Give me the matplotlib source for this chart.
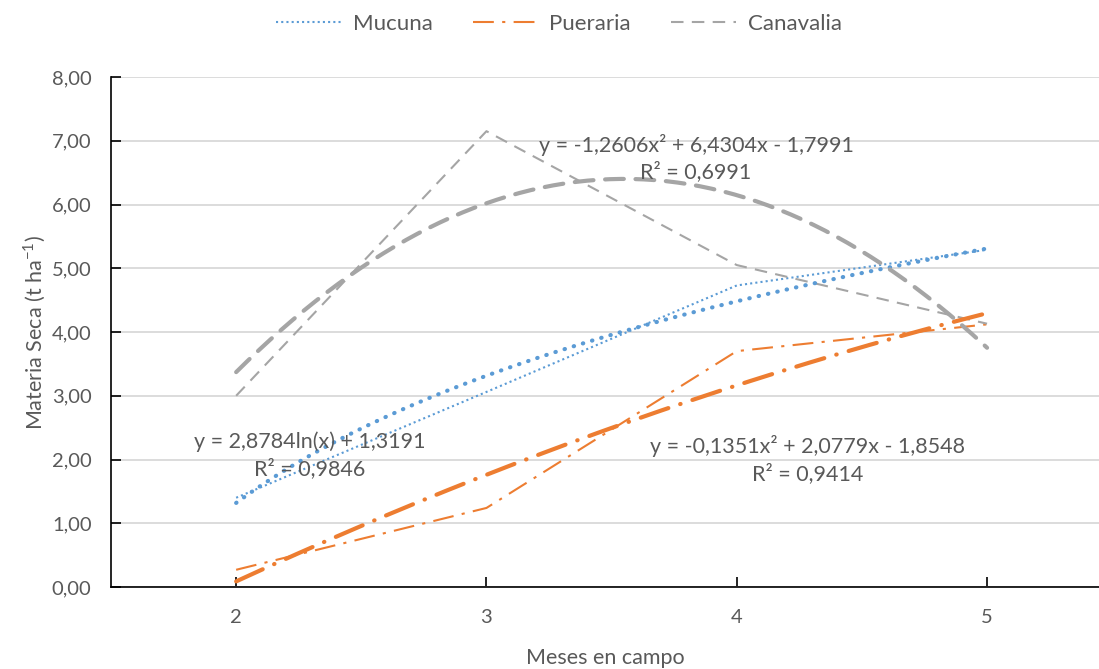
import numpy as np
import matplotlib
matplotlib.use("Agg")
import matplotlib.pyplot as plt

plt.rcParams['font.family'] = ['Lato', 'DejaVu Sans']

meses = [2, 3, 4, 5]
mucuna = [1.40, 3.06, 4.73, 5.29]
pueraria = [0.27, 1.24, 3.70, 4.12]
canavalia = [3.00, 7.15, 5.05, 4.13]

# trendline coefficients as printed on the chart (x = category index 1..4)
mucuna_log = [2.8784, 1.3191]
pueraria_poly = [-0.1351, 2.0779, -1.8548]
canavalia_poly = [-1.2606, 6.4304, -1.7991]

yticks = [0, 1, 2, 3, 4, 5, 6, 7, 8]
ytick_labels = ["0,00", "1,00", "2,00", "3,00", "4,00", "5,00", "6,00", "7,00", "8,00"]

c_muc = '#5B9BD5'
c_pue = '#ED7D31'
c_can = '#A5A5A5'
txt = '#595959'

fig = plt.figure(figsize=(10.99, 6.69), dpi=100)
ax = fig.add_axes([111/1099, 1-587/669, 1-111/1099, (587-77)/669])

ax.plot(meses, mucuna, color=c_muc, lw=1.5, ls=(0, (1, 1.5)), label='Mucuna', zorder=3)
ax.plot(meses, pueraria, color=c_pue, lw=1.5, ls=(0, (10, 4, 1.5, 4)), label='Pueraria', zorder=3)
ax.plot(meses, canavalia, color=c_can, lw=1.5, ls=(0, (6, 4)), label='Canavalia', zorder=3)

xs = np.linspace(2, 5, 200)
t = xs - 1
ax.plot(xs, mucuna_log[0]*np.log(t) + mucuna_log[1], color=c_muc, lw=3,
        ls=(0, (0.1, 2.2)), dash_capstyle='round', zorder=4)
ax.plot(xs, np.polyval(pueraria_poly, t), color=c_pue, lw=3,
        ls=(0, (7, 3, 0.1, 3)), dash_capstyle='round', zorder=4)
ax.plot(xs, np.polyval(canavalia_poly, t), color=c_can, lw=3,
        ls=(0, (4.5, 2.8)), dash_capstyle='round', zorder=4)

ax.set_xlim(1.5, 1.5 + (1099-111)/250.3)
ax.set_ylim(0, 8)
ax.set_yticks(yticks)
ax.set_yticklabels(ytick_labels)
ax.set_xticks(meses)
ax.set_xticklabels([str(m) for m in meses])
ax.grid(axis='y', color='#D9D9D9', lw=1.3)
ax.set_axisbelow(True)
for s in ['top', 'right']:
    ax.spines[s].set_visible(False)
for s in ['left', 'bottom']:
    ax.spines[s].set_color('black')
    ax.spines[s].set_linewidth(1.2)
ax.tick_params(axis='both', direction='in', length=7, width=1.2, color='black',
               labelcolor=txt, labelsize=14.5)
ax.tick_params(axis='y', pad=14)
ax.tick_params(axis='x', pad=16)

ax.set_ylabel('Materia Seca (t ha$^{\\mathregular{-1}}$)', color=txt, fontsize=15.5, labelpad=3)
ax.set_xlabel('Meses en campo', color=txt, fontsize=15.5, labelpad=16)

fs = 15.5
def pt(px, py):
    return (px/1099, 1 - py/669)

fig.text(*pt(310, 442), 'y = 2,8784ln(x) + 1,3191', ha='center', va='center', color=txt, fontsize=fs, zorder=10)
fig.text(*pt(310, 469), 'R² = 0,9846', ha='center', va='center', color=txt, fontsize=fs, zorder=10)
fig.text(*pt(696, 145), 'y = -1,2606x² + 6,4304x - 1,7991', ha='center', va='center', color=txt, fontsize=fs, zorder=10)
fig.text(*pt(696, 172), 'R² = 0,6991', ha='center', va='center', color=txt, fontsize=fs, zorder=10)
fig.text(*pt(808, 446), 'y = -0,1351x² + 2,0779x - 1,8548', ha='center', va='center', color=txt, fontsize=fs, zorder=10)
fig.text(*pt(808, 474), 'R² = 0,9414', ha='center', va='center', color=txt, fontsize=fs, zorder=10)

leg = fig.legend(loc='center', bbox_to_anchor=(559/1099, 1-24/669), ncol=3, frameon=False,
                 fontsize=16, handlelength=2.9, columnspacing=1.8, handletextpad=0.55)
for tx in leg.get_texts():
    tx.set_color(txt)

fig.savefig('out.png', dpi=100)
